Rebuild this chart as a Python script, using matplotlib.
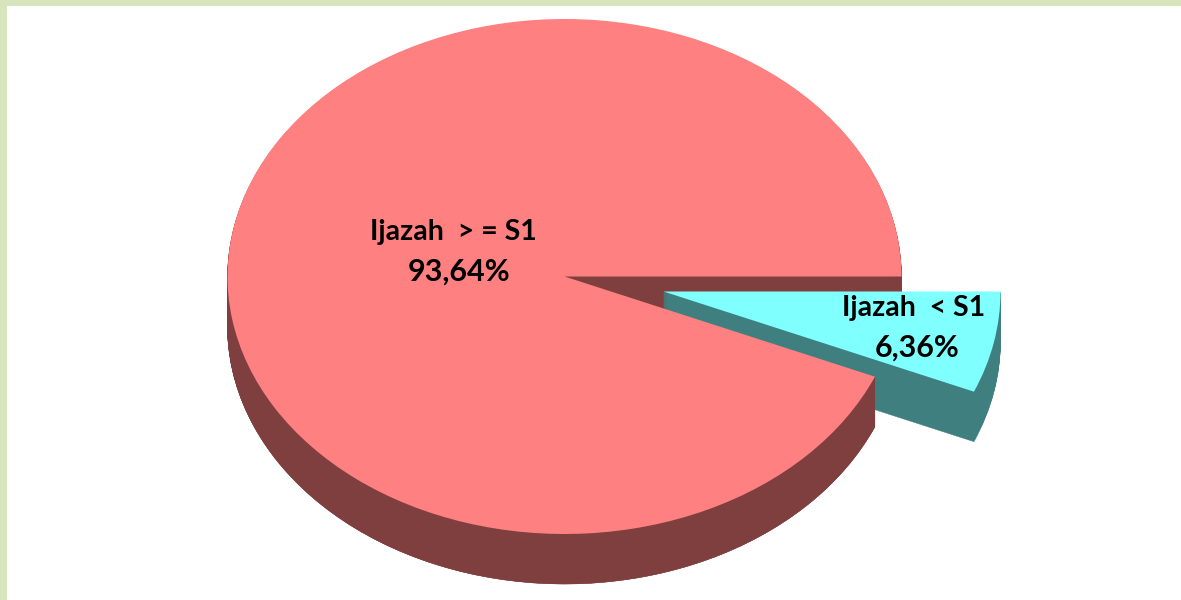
import matplotlib
matplotlib.use('Agg')
import matplotlib.pyplot as plt
from matplotlib.patches import Rectangle, Wedge

labels = ['Ijazah  > = S1', 'Ijazah  < S1']
shares = [93.64, 6.36]
share_labels = ['93,64%', '6,36%']

W, H = 1181, 600
cx, cy = 564.5, 276.5  # centre of the pie in pixels
rx, ry = 337, 257.5    # ellipse radii in pixels
depth = 50
exp_x, exp_y = 99, 15  # explode offset of the small slice

pink = '#FF8080'
pink_dark = '#7F3F3F'
cyan = '#80FFFF'
cyan_dark = '#407F7F'
border = '#D8E4BC'

plt.rcParams['font.family'] = ['Lato', 'DejaVu Sans']

fig = plt.figure(figsize=(W / 100, H / 100), dpi=100)
ax = fig.add_axes([0, 0, 1, 1])

split = 360 * shares[0] / sum(shares)
ex, ey = exp_x / rx, -exp_y / ry


def wall(center, t1, t2, color):
    for k in range(depth, 0, -1):
        ax.add_patch(Wedge((center[0], center[1] - k / ry), 1, t1, t2, fc=color, ec=color, lw=0.3))


# the back of the big slice, then the small one, then the big slice's front
wall((0, 0), 0, split, pink_dark)
wall((ex, ey), split, 360, cyan_dark)
wall((0, 0), 180, split, pink_dark)

wedges, _ = ax.pie(shares, startangle=0, counterclock=True, radius=1,
                   colors=[pink, cyan], normalize=True,
                   wedgeprops={'linewidth': 0})
wedges[1].set_center((ex, ey))

# pie() forces a circle, the reference is a flattened ellipse
ax.set_aspect('auto')
ax.set_xlim((0 - cx) / rx, (W - cx) / rx)
ax.set_ylim((cy - H) / ry, cy / ry)

fig.add_artist(Rectangle((0, 1 - 6 / H), 1, 6 / H, transform=fig.transFigure, fc=border, ec='none'))
fig.add_artist(Rectangle((0, 0), 7 / W, 1, transform=fig.transFigure, fc=border, ec='none'))

fig.text(453.5 / W, 1 - 232 / H, labels[0], ha='center', va='center', fontsize=20.5, fontweight='bold', color='black')
fig.text(459.5 / W, 1 - 272 / H, share_labels[0], ha='center', va='center', fontsize=22, fontweight='bold', color='black')
fig.text(914 / W, 1 - 308 / H, labels[1], ha='center', va='center', fontsize=20.5, fontweight='bold', color='black')
fig.text(917.5 / W, 1 - 348 / H, share_labels[1], ha='center', va='center', fontsize=22, fontweight='bold', color='black')

fig.savefig('out.png', dpi=100)
